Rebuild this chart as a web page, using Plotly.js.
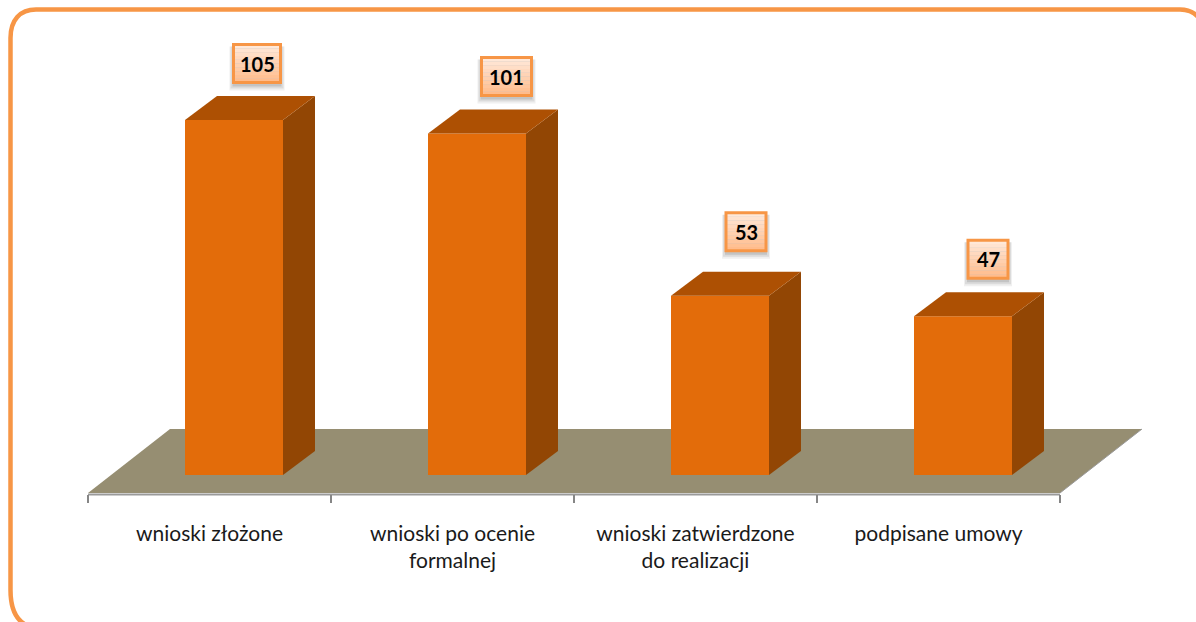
<!DOCTYPE html>
<html><head><meta charset="utf-8">
<script src="https://cdn.plot.ly/plotly-3.0.1.min.js"></script>
<style>html,body{margin:0;padding:0;background:#fff;overflow:hidden}</style>
</head><body><div id="chart" style="width:1196px;height:622px"></div>
<script>
const categories = ['wnioski złożone', 'wnioski po ocenie<br>formalnej', 'wnioski zatwierdzone<br>do realizacji', 'podpisane umowy'];
const values = [105, 101, 53, 47];
const valueLabels = ['105', '101', '53', '47'];

const W = 1196, H = 622, PXU = 243, PYU = 3.38, X0 = 88, Y0 = 475;
const xd = px => (px - X0) / PXU, yd = py => (Y0 - py) / PYU;
const dx = 32 / PXU, dy = 24 / PYU, barW = 98 / PXU;
const centers = categories.map((_, i) => i + 0.5);
const barX = centers.map(c => c + 24.5 / PXU);
const poly = (xs, ys, color) => ({type:'scatter', mode:'lines', x:xs, y:ys, fill:'toself', fillcolor:color,
  line:{width:0, color:color}, hoverinfo:'skip', showlegend:false});

const traces = [{type:'bar', x:barX, y:values, width:barW, marker:{color:'#e36c0a', line:{width:0}}, hoverinfo:'x+y', showlegend:false}];
barX.forEach((c, i) => {
  const l = c - barW/2, r = c + barW/2, v = values[i];
  traces.push(poly([r, r+dx, r+dx, r, r], [0, dy, v+dy, v, 0], '#924604'));
  traces.push(poly([l, r, r+dx, l+dx, l], [v, v, v+dy, v+dy, v], '#ad5003'));
});

const shapes = [];
const floorFront = yd(493), floorBack = yd(429);
shapes.push({type:'path', layer:'below', xref:'x', yref:'y',
  path:`M ${xd(88)} ${floorFront} L ${xd(170)} ${floorBack} L ${xd(1142)} ${floorBack} L ${xd(1060)} ${floorFront} Z`,
  fillcolor:'#968e72', line:{width:0}});
shapes.push({type:'line', layer:'below', xref:'x', yref:'y', x0:0, x1:4, y0:yd(494.5), y1:yd(494.5), line:{color:'#9a9a9a', width:2}});
shapes.push({type:'line', layer:'below', xref:'x', yref:'y', x0:4, x1:xd(1142), y0:floorFront, y1:floorBack, line:{color:'#9a9a9a', width:1}});

// rounded frame, running off the page at the right and bottom
const px = v => v / W, py = v => 1 - v / H;
shapes.push({type:'path', layer:'below', xref:'paper', yref:'paper',
  path:`M ${px(35)} ${py(628)} C ${px(18)} ${py(625)} ${px(10.5)} ${py(612)} ${px(10.5)} ${py(590)} L ${px(10.5)} ${py(38)} C ${px(10.5)} ${py(20)} ${px(20)} ${py(9.5)} ${px(36)} ${py(9.5)} L ${px(1180)} ${py(9.5)} C ${px(1195)} ${py(9.5)} ${px(1205)} ${py(20)} ${px(1205)} ${py(38)}`,
  line:{color:'#f79646', width:4.5}, fillcolor:'rgba(0,0,0,0)'});

const annotations = [];
const lift = [56.5, 57, 64, 57];
const shift = [23, 29.5, 26, 25];
const boxWide = [47, 50, 40, 40];
const boxH = 38;
values.forEach((v, i) => {
  const cx = barX[i] + shift[i] / PXU, cy = v + lift[i] / PYU;
  const hw = boxWide[i] / 2 / PXU, hh = boxH / 2 / PYU;
  [[4, 8, 0.10], [3, 6, 0.16], [1, 4, 0.22]].forEach(([sx, sy, a]) => {
    shapes.push({type:'rect', xref:'x', yref:'y', x0:cx-hw-sx/PXU, x1:cx+hw+sx/PXU, y0:cy-hh-sy/PYU, y1:cy+hh-2/PYU, fillcolor:`rgba(110,110,110,${a})`, line:{width:0}});
  });
  const n = 10;
  for (let k = 0; k < n; k++) {
    const t = k / (n - 1);
    const g = Math.round(232 - t * 44), b = Math.round(216 - t * 76);
    shapes.push({type:'rect', xref:'x', yref:'y', x0:cx-hw, x1:cx+hw, y0:cy+hh-(k+1)*2*hh/n, y1:cy+hh-k*2*hh/n, fillcolor:`rgb(255,${g},${b})`, line:{width:0}});
  }
  shapes.push({type:'rect', xref:'x', yref:'y', x0:cx-hw, x1:cx+hw, y0:cy-hh, y1:cy+hh, fillcolor:'rgba(0,0,0,0)', line:{color:'#f79646', width:3}});
  annotations.push({xref:'x', yref:'y', x:cx, y:cy, text:valueLabels[i], showarrow:false, xanchor:'center', yanchor:'middle',
    font:{family:'Lato, sans-serif', size:20, color:'#000', weight:700}});
});

const layout = {
  width:W, height:H, margin:{l:0, r:0, t:0, b:0}, paper_bgcolor:'#fff', plot_bgcolor:'rgba(0,0,0,0)',
  showlegend:false, barmode:'overlay', shapes, annotations,
  xaxis:{range:[xd(0), xd(W)], domain:[0,1], anchor:'free', position:(H-494)/H, showgrid:false, zeroline:false, showline:false,
    tickmode:'array', tickvals:centers, ticktext:categories, ticks:'', ticklabelstandoff:25,
    tickfont:{family:'Lato, sans-serif', size:21, color:'#1a1a1a'}, tickangle:0, automargin:false,
    minor:{tickmode:'array', tickvals:[0,1,2,3,4], ticks:'outside', ticklen:8, tickwidth:2, tickcolor:'#868686', showgrid:false}},
  yaxis:{range:[yd(H), yd(0)], domain:[0,1], visible:false, fixedrange:true}
};
Plotly.newPlot('chart', traces, layout, {displayModeBar:false, staticPlot:true});
</script></body></html>
